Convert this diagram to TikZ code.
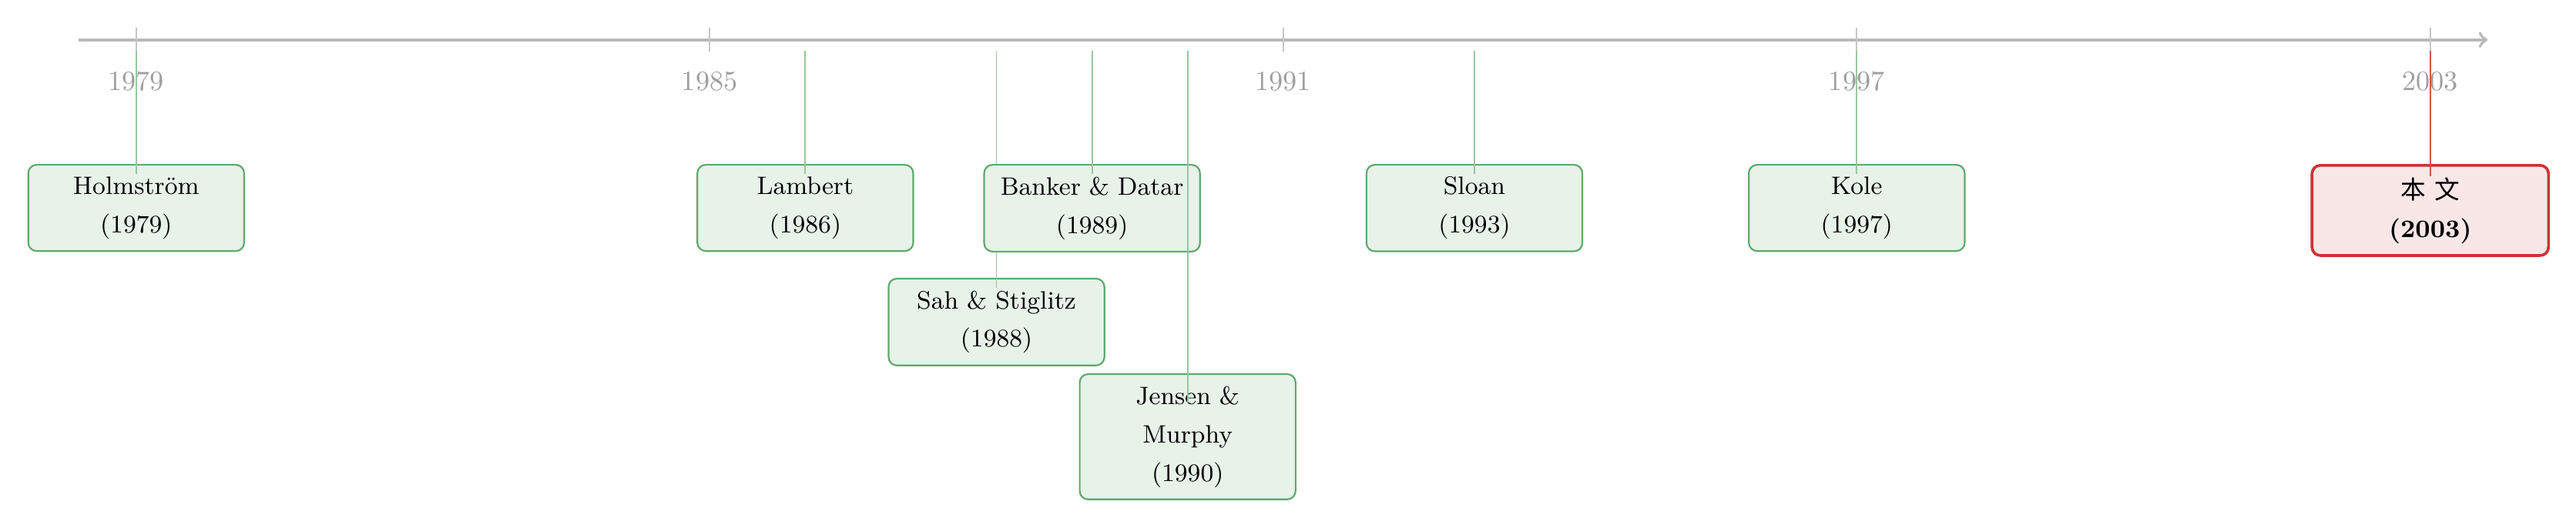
\documentclass[tikz,border=0pt]{standalone}
\usepackage{fontspec}
\newfontfamily\cjk{Noto Sans CJK SC}
\definecolor{paperg}{HTML}{5FA96C}
\definecolor{paperr}{HTML}{CC3333}
\tikzset{
	paper/.style={draw=paperg, line width=0.6pt, fill=paperg!15, rounded corners=3pt, align=center, text width=2.4cm, inner xsep=0.155cm, inner ysep=4.3pt, font=\small\linespread{1.25}\selectfont},
	ours/.style={paper, draw=paperr, fill=paperr!12, line width=1pt, text width=2.66cm},
	link/.style={paperg!65, line width=0.5pt},
}
\begin{document}
\begin{tikzpicture}[line join=round, >=to]
	\useasboundingbox (-1.71,0.5) rectangle (30.63,-6.13);
	\def\s{1.2} % cm je Jahr
	\draw[->, gray!55, line width=1.1pt] (-0.72,0)--(29.52,0);
	\foreach \y in {1979,1985,...,2003}{
		\pgfmathsetmacro\xx{(\y-1979)*\s}
		\draw[gray!45, line width=0.5pt] (\xx,0.15)--(\xx,-0.15);
		\node[text=gray!75] (y\y) at (\xx,-0.52) {\y};
	}
	% Arbeiten: Jahr / Hoehe / Autor
	\foreach \y/\lv/\txt in {1979/-1.56/Holmström, 1986/-1.56/Lambert, 1988/-2.99/Sah \& Stiglitz, 1989/-1.56/Banker \& Datar, 1990/-4.19/Jensen \& Murphy, 1993/-1.56/Sloan, 1997/-1.56/Kole}{
		\pgfmathsetmacro\xx{(\y-1979)*\s}
		\coordinate (t\y) at (\xx,-0.14);
		\node[paper, anchor=north] (p\y) at (\xx,\lv) {\txt\\(\y)};
		\draw[link] (t\y)--([yshift=0.43cm]p\y.center);
	}
	\coordinate (t2003) at (28.8,-0.14);
	\node[ours, anchor=north] (p2003) at (28.8,-1.56) {{\cjk 本 文}\\\textbf{(2003)}};
	\draw[paperr!85, line width=0.5pt] (t2003)--([yshift=0.43cm]p2003.center);
\end{tikzpicture}
\end{document}
